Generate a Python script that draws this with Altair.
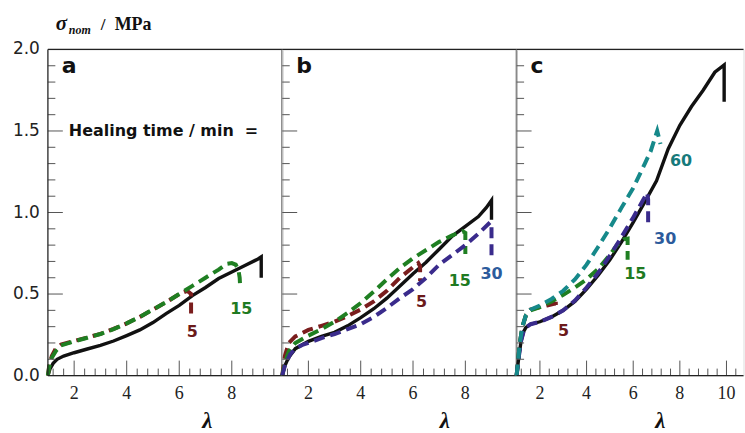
import altair as alt
import pandas as pd

# ---------------- data ----------------
# Panel a
A_BLACK_X = [1.0, 1.08, 1.2, 1.35, 1.6, 2.0, 2.5, 3.0, 3.5, 4.0, 4.5, 5.0, 5.5, 6.0, 6.5, 7.0, 7.5, 8.0, 8.5, 9.0, 9.12, 9.12]
A_BLACK_Y = [0.0, 0.04, 0.075, 0.1, 0.12, 0.14, 0.163, 0.185, 0.212, 0.245, 0.28, 0.325, 0.38, 0.43, 0.49, 0.54, 0.595, 0.635, 0.675, 0.715, 0.728, 0.60]
A_RED_X = [1.0, 1.05, 1.15, 1.3, 1.5, 2.0, 2.5, 3.0, 3.5, 4.0, 4.5, 5.0, 5.5, 6.0, 6.3, 6.45, 6.45]
A_RED_Y = [0.0, 0.06, 0.12, 0.165, 0.19, 0.212, 0.233, 0.256, 0.286, 0.32, 0.36, 0.405, 0.45, 0.5, 0.52, 0.5, 0.38]
A_GREEN_X = [1.0, 1.05, 1.15, 1.3, 1.5, 2.0, 2.5, 3.0, 3.5, 4.0, 4.5, 5.0, 5.5, 6.0, 6.5, 7.0, 7.5, 7.8, 8.0, 8.15, 8.25, 8.3, 8.32]
A_GREEN_Y = [0.0, 0.05, 0.11, 0.15, 0.185, 0.21, 0.232, 0.255, 0.285, 0.32, 0.36, 0.405, 0.45, 0.5, 0.55, 0.6, 0.65, 0.685, 0.69, 0.68, 0.65, 0.6, 0.54]

# Panel b
B_BLACK_X = [1.0, 1.1, 1.24, 1.5, 2.0, 2.5, 3.0, 3.5, 4.0, 4.5, 5.0, 5.5, 6.0, 6.5, 7.0, 7.5, 8.0, 8.5, 8.8, 9.0, 9.0]
B_BLACK_Y = [0.0, 0.06, 0.11, 0.165, 0.21, 0.24, 0.265, 0.305, 0.355, 0.41, 0.475, 0.55, 0.625, 0.695, 0.775, 0.855, 0.915, 0.975, 1.03, 1.075, 0.955]
B_RED_X = [1.0, 1.1, 1.25, 1.5, 2.0, 2.5, 3.0, 3.5, 4.0, 4.5, 5.0, 5.5, 6.0, 6.2, 6.27, 6.27]
B_RED_Y = [0.0, 0.12, 0.2, 0.24, 0.28, 0.305, 0.33, 0.365, 0.405, 0.455, 0.52, 0.6, 0.665, 0.69, 0.67, 0.58]
B_GREEN_X = [1.0, 1.1, 1.25, 1.5, 2.0, 2.5, 3.0, 3.5, 4.0, 4.5, 5.0, 5.5, 6.0, 6.5, 7.0, 7.5, 7.9, 8.0, 8.0]
B_GREEN_Y = [0.0, 0.08, 0.15, 0.2, 0.245, 0.285, 0.33, 0.385, 0.445, 0.515, 0.59, 0.66, 0.72, 0.77, 0.82, 0.86, 0.885, 0.875, 0.745]
B_PURPLE_X = [1.0, 1.1, 1.3, 1.5, 1.8, 2.0, 2.5, 3.0, 3.5, 4.0, 4.5, 5.0, 5.5, 6.0, 6.5, 7.0, 7.5, 8.0, 8.5, 8.95, 9.0, 9.0]
B_PURPLE_Y = [0.0, 0.06, 0.13, 0.165, 0.19, 0.2, 0.23, 0.255, 0.285, 0.315, 0.36, 0.415, 0.475, 0.53, 0.6, 0.68, 0.74, 0.8, 0.87, 0.94, 0.935, 0.72]

# Panel c
C_BLACK_X = [1.0, 1.1, 1.19, 1.3, 1.4, 1.6, 2.0, 2.5, 3.0, 3.5, 4.0, 4.5, 5.0, 5.5, 6.0, 6.5, 7.0, 7.5, 8.0, 8.5, 9.0, 9.5, 9.9, 9.9]
C_BLACK_Y = [0.0, 0.12, 0.21, 0.27, 0.295, 0.315, 0.33, 0.36, 0.4, 0.455, 0.53, 0.615, 0.71, 0.82, 0.94, 1.065, 1.195, 1.39, 1.535, 1.65, 1.75, 1.86, 1.905, 1.68]
C_RED_X = [1.0, 1.07, 1.14, 1.25, 1.4, 1.6, 2.0, 2.3, 2.6, 2.68, 2.68]
C_RED_Y = [0.0, 0.1, 0.2, 0.3, 0.37, 0.405, 0.42, 0.43, 0.44, 0.44, 0.41]
C_GREEN_X = [1.0, 1.07, 1.14, 1.25, 1.4, 1.6, 2.0, 2.5, 3.0, 3.5, 4.0, 4.5, 5.0, 5.3, 5.6, 5.76, 5.76]
C_GREEN_Y = [0.0, 0.1, 0.2, 0.3, 0.37, 0.4, 0.42, 0.455, 0.495, 0.54, 0.59, 0.655, 0.74, 0.8, 0.835, 0.84, 0.71]
C_PURPLE_X = [1.0, 1.1, 1.19, 1.3, 1.4, 1.6, 2.0, 2.5, 3.0, 3.5, 4.0, 4.5, 5.0, 5.5, 6.0, 6.4, 6.6, 6.64, 6.64]
C_PURPLE_Y = [0.0, 0.12, 0.21, 0.27, 0.295, 0.315, 0.33, 0.36, 0.4, 0.46, 0.54, 0.63, 0.735, 0.85, 0.97, 1.07, 1.12, 1.08, 0.91]
C_TEAL_X = [1.0, 1.07, 1.14, 1.25, 1.4, 1.6, 2.0, 2.5, 3.0, 3.5, 4.0, 4.5, 5.0, 5.5, 6.0, 6.5, 6.75, 7.03, 7.17]
C_TEAL_Y = [0.0, 0.1, 0.2, 0.3, 0.37, 0.405, 0.43, 0.47, 0.52, 0.59, 0.68, 0.79, 0.905, 1.03, 1.15, 1.3, 1.376, 1.5, 1.42]

# curve labels (healing time in min)
A_LAB_TEXT = ["5", "15"]
A_LAB_X = [6.5, 8.36]
A_LAB_Y = [0.265, 0.408]
B_LAB_TEXT = ["5", "15", "30"]
B_LAB_X = [6.33, 7.79, 9.0]
B_LAB_Y = [0.454, 0.58, 0.622]
C_LAB_TEXT = ["5", "15", "30", "60"]
C_LAB_X = [3.01, 6.09, 7.37, 8.05]
C_LAB_Y = [0.275, 0.622, 0.836, 1.315]

Y_LABELS = [0.0, 0.5, 1.0, 1.5, 2.0]
Y_LABEL_TEXT = ["0.0", "0.5", "1.0", "1.5", "2.0"]
X_LABELS = [2, 4, 6, 8, 10]
X_LABEL_TEXT = ["2", "4", "6", "8", "10"]
Y_TICKS_MAJOR = [0.5, 1.0, 1.5]
Y_TICKS_MINOR = [0.1, 0.2, 0.3, 0.4, 0.6, 0.7, 0.8, 0.9, 1.1, 1.2, 1.3, 1.4, 1.6, 1.7, 1.8, 1.9]
X_TICKS_MAJOR = [2, 4, 6, 8, 10]
X_TICKS_MINOR = [1.2, 1.6, 2.4, 2.8, 3.2, 3.6, 4.4, 4.8, 5.2, 5.6, 6.4, 6.8, 7.2, 7.6, 8.4, 8.8, 9.2, 9.6, 10.4]

# ---------------- styles ----------------
LINE_COLORS = {"5": "#7a1d1d", "15": "#1f7f22", "30": "#3a2b8c", "60": "#16898a"}
LABEL_COLORS = {"5": "#6b1a1a", "15": "#1f7a22", "30": "#2c5b9c", "60": "#177a7b"}
H = 327
DASH = [11, 6]


def pts(xs, ys):
    return pd.DataFrame({"lam": xs, "sig": ys, "i": list(range(len(xs)))})


def one():
    return pd.DataFrame({"d": [0]})


def panel(black, dashed, labels, letter, xmax, width, lam_x, first, last):
    xs = alt.Scale(domain=[1, xmax], nice=False, zero=False)
    ys = alt.Scale(domain=[0, 2], nice=False, zero=False)

    layers = []
    layers.append(alt.Chart(black).mark_line(color="#111111", strokeWidth=3.4)
                  .encode(x=alt.X("lam:Q", scale=xs, axis=None),
                          y=alt.Y("sig:Q", scale=ys, axis=None),
                          order="i:Q"))
    for key, df in dashed:
        layers.append(alt.Chart(df).mark_line(color=LINE_COLORS[key], strokeWidth=4, strokeDash=DASH)
                      .encode(x=alt.X("lam:Q", scale=xs, axis=None),
                              y=alt.Y("sig:Q", scale=ys, axis=None),
                              order="i:Q"))

    # tick marks (inward)
    layers.append(alt.Chart(pd.DataFrame({"v": Y_TICKS_MINOR})).mark_rule(color="#555555", strokeWidth=1)
                  .encode(y=alt.Y("v:Q", scale=ys, axis=None), x=alt.value(0), x2=alt.value(7.5)))
    layers.append(alt.Chart(pd.DataFrame({"v": Y_TICKS_MAJOR})).mark_rule(color="#555555", strokeWidth=1)
                  .encode(y=alt.Y("v:Q", scale=ys, axis=None), x=alt.value(0), x2=alt.value(15)))
    xmin_t = [v for v in X_TICKS_MINOR if v < xmax]
    xmaj_t = [v for v in X_TICKS_MAJOR if v < xmax]
    layers.append(alt.Chart(pd.DataFrame({"v": xmin_t})).mark_rule(color="#555555", strokeWidth=1)
                  .encode(x=alt.X("v:Q", scale=xs, axis=None), y=alt.value(H), y2=alt.value(H - 7)))
    layers.append(alt.Chart(pd.DataFrame({"v": xmaj_t})).mark_rule(color="#555555", strokeWidth=1)
                  .encode(x=alt.X("v:Q", scale=xs, axis=None), y=alt.value(H), y2=alt.value(H - 15)))

    # tick labels
    xl = [(v, t) for v, t in zip(X_LABELS, X_LABEL_TEXT) if v < xmax]
    layers.append(alt.Chart(pd.DataFrame({"v": [a for a, _ in xl], "t": [b for _, b in xl]}))
                  .mark_text(font="Liberation Serif", fontSize=18, color="#222222",
                             align="center", baseline="top")
                  .encode(x=alt.X("v:Q", scale=xs, axis=None), y=alt.value(H + 9), text="t:N"))
    if first:
        layers.append(alt.Chart(pd.DataFrame({"v": Y_LABELS, "t": Y_LABEL_TEXT}))
                      .mark_text(font="DejaVu Sans", fontSize=17, color="#222222",
                                 align="right", baseline="middle")
                      .encode(y=alt.Y("v:Q", scale=ys, axis=None), x=alt.value(-8), text="t:N"))

    # frame
    layers.append(alt.Chart(one()).mark_rule(color="#222222", strokeWidth=1.2)
                  .encode(x=alt.value(0), x2=alt.value(width), y=alt.value(0)))
    layers.append(alt.Chart(one()).mark_rule(color="#222222", strokeWidth=1.2)
                  .encode(x=alt.value(0), x2=alt.value(width), y=alt.value(H)))
    if first:
        layers.append(alt.Chart(one()).mark_rule(color="#222222", strokeWidth=1.2)
                      .encode(x=alt.value(0), y=alt.value(0), y2=alt.value(H)))
    if not last:
        layers.append(alt.Chart(one()).mark_rule(color="#555555", strokeWidth=1.8)
                      .encode(x=alt.value(width), y=alt.value(0), y2=alt.value(H)))

    # curve labels
    layers.append(alt.Chart(labels).mark_text(font="DejaVu Sans", fontWeight="bold", fontSize=16,
                                               align="center", baseline="middle")
                  .encode(x=alt.X("lam:Q", scale=xs, axis=None),
                          y=alt.Y("sig:Q", scale=ys, axis=None),
                          text="lab:N",
                          color=alt.Color("lab:N", scale=alt.Scale(domain=list(LABEL_COLORS.keys()),
                                                                   range=list(LABEL_COLORS.values())),
                                          legend=None)))
    # panel letter
    layers.append(alt.Chart(one()).mark_text(text=letter, font="DejaVu Sans", fontWeight="bold",
                                             fontSize=22, align="left", baseline="alphabetic",
                                             color="#111111")
                  .encode(x=alt.value(14), y=alt.value(24)))
    # lambda axis title
    layers.append(alt.Chart(one()).mark_text(text="λ", font="Liberation Serif", fontWeight="bold",
                                             fontStyle="italic", fontSize=23, align="center",
                                             baseline="alphabetic", color="#111111")
                  .encode(x=alt.value(lam_x), y=alt.value(H + 53)))
    if first:
        # y title  sigma_nom / MPa
        layers.append(alt.Chart(one()).mark_text(text="σ", font="Liberation Serif", fontWeight="bold",
                                                 fontStyle="italic", fontSize=21, align="left",
                                                 baseline="alphabetic", color="#111111")
                      .encode(x=alt.value(8), y=alt.value(-20)))
        layers.append(alt.Chart(one()).mark_text(text="nom", font="Liberation Serif", fontWeight="bold",
                                                 fontStyle="italic", fontSize=12, align="left",
                                                 baseline="alphabetic", color="#111111")
                      .encode(x=alt.value(21), y=alt.value(-15)))
        layers.append(alt.Chart(one()).mark_text(text="/", font="Liberation Serif", fontWeight="bold",
                                                 fontSize=17, align="left",
                                                 baseline="alphabetic", color="#111111")
                      .encode(x=alt.value(53), y=alt.value(-20)))
        layers.append(alt.Chart(one()).mark_text(text="MPa", font="Liberation Serif", fontWeight="bold",
                                                 fontSize=18, align="left",
                                                 baseline="alphabetic", color="#111111")
                      .encode(x=alt.value(67), y=alt.value(-20)))
        layers.append(alt.Chart(one()).mark_text(text="Healing time / min\u00a0\u00a0=", font="DejaVu Sans",
                                                 fontWeight="bold", fontSize=16, align="left",
                                                 baseline="alphabetic", color="#111111")
                      .encode(x=alt.value(21), y=alt.value(87)))
        # white marker fixing the page origin
        layers.append(alt.Chart(one()).mark_rule(color="white", strokeWidth=1)
                      .encode(x=alt.value(-46.5), x2=alt.value(-45.5), y=alt.value(-47.5)))

    return alt.layer(*layers).properties(width=width, height=H)


def labels_df(texts, xs, ys):
    return pd.DataFrame({"lab": texts, "lam": xs, "sig": ys})


pa = panel(pts(A_BLACK_X, A_BLACK_Y),
           [("5", pts(A_RED_X, A_RED_Y)), ("15", pts(A_GREEN_X, A_GREEN_Y))],
           labels_df(A_LAB_TEXT, A_LAB_X, A_LAB_Y), "a", 9.92, 235, 160, True, False)
pb = panel(pts(B_BLACK_X, B_BLACK_Y),
           [("5", pts(B_RED_X, B_RED_Y)), ("15", pts(B_GREEN_X, B_GREEN_Y)),
            ("30", pts(B_PURPLE_X, B_PURPLE_Y))],
           labels_df(B_LAB_TEXT, B_LAB_X, B_LAB_Y), "b", 9.96, 235, 163, False, False)
pc = panel(pts(C_BLACK_X, C_BLACK_Y),
           [("5", pts(C_RED_X, C_RED_Y)), ("15", pts(C_GREEN_X, C_GREEN_Y)),
            ("30", pts(C_PURPLE_X, C_PURPLE_Y)), ("60", pts(C_TEAL_X, C_TEAL_Y))],
           labels_df(C_LAB_TEXT, C_LAB_X, C_LAB_Y), "c", 10.73, 227.5, 144, False, True)

chart = alt.hconcat(pa, pb, pc, spacing=0, bounds="flush").properties(
    padding={"left": 0, "right": 0, "top": 0, "bottom": 0}
).configure_view(stroke="transparent").configure(background="white")

chart.save("out.html", embed_options={"renderer": "svg", "actions": False})
